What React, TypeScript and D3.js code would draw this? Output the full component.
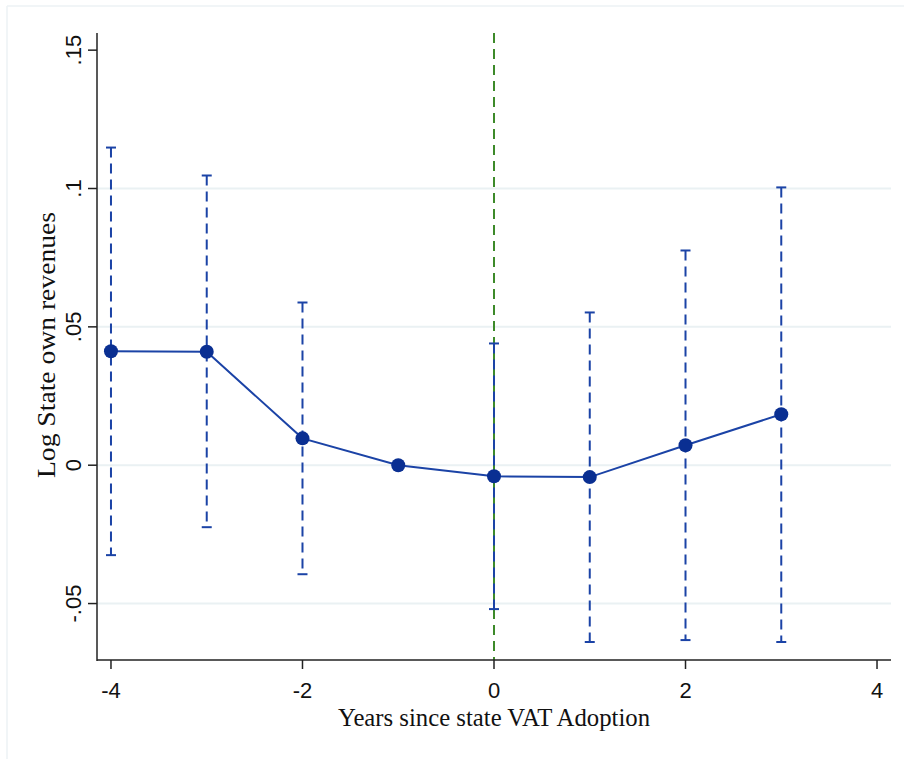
import React from "react";
import * as d3 from "d3";

// Event-study estimates: years relative to state VAT adoption
const years = [-4, -3, -2, -1, 0, 1, 2, 3];
const estimates = [0.0412, 0.041, 0.0097, 0, -0.004, -0.0043, 0.0072, 0.0184];
const ciLower = [-0.0325, -0.0224, -0.0394, null, -0.052, -0.0639, -0.0632, -0.0639];
const ciUpper = [0.1148, 0.1047, 0.0588, null, 0.044, 0.0552, 0.0776, 0.1004];

const xTicks = [-4, -2, 0, 2, 4];
const yTicks = [-0.05, 0, 0.05, 0.1, 0.15];
const yTickLabels = ["-.05", "0", ".05", ".1", ".15"];
const gridValues = [-0.05, 0, 0.05, 0.1];

const W = 904;
const H = 759;
const left = 97;
const right = 891;
const top = 33;
const bottom = 660;

const LINE = "#1b43a6";
const MARK = "#0a2f92";
const GRID = "#eaf1f3";

export default function App() {
  const x = d3.scaleLinear().domain([-4.146, 4.146]).range([left, right]);
  const y = d3.scaleLinear().domain([-0.0704, 0.1562]).range([bottom, top]);

  const pts = years.map((yr, i) => ({ yr, v: estimates[i], lo: ciLower[i], hi: ciUpper[i] }));
  const line = d3
    .line<{ yr: number; v: number }>()
    .x((d) => x(d.yr))
    .y((d) => y(d.v));

  const sans = "'Liberation Sans', Arial, sans-serif";
  const serif = "'Liberation Serif', 'DejaVu Serif', serif";

  return (
    <svg
      width={W}
      height={H}
      style={{ position: "absolute", left: 0, top: 0, background: "#fff" }}
    >
      {/* outer frame */}
      <line x1={7} x2={W} y1={6} y2={6} stroke="#edf2f4" strokeWidth={1.5} />
      <line x1={7} x2={7} y1={6} y2={H} stroke="#edf2f4" strokeWidth={1.5} />

      {/* gridlines */}
      {gridValues.map((g) => (
        <line key={g} x1={left} x2={right} y1={y(g)} y2={y(g)} stroke={GRID} strokeWidth={2} />
      ))}

      {/* reference line at adoption year */}
      <line
        x1={x(0)}
        x2={x(0)}
        y1={top}
        y2={bottom}
        stroke="#3d8a2a"
        strokeWidth={2}
        strokeDasharray="10 6"
      />

      {/* confidence intervals */}
      {pts
        .filter((p) => p.lo !== null && p.hi !== null)
        .map((p) => (
          <g key={p.yr} stroke={LINE} strokeWidth={2}>
            <line
              x1={x(p.yr)}
              x2={x(p.yr)}
              y1={y(p.hi as number)}
              y2={y(p.lo as number)}
              strokeDasharray="10 6"
            />
            <line x1={x(p.yr) - 5} x2={x(p.yr) + 5} y1={y(p.hi as number)} y2={y(p.hi as number)} />
            <line x1={x(p.yr) - 5} x2={x(p.yr) + 5} y1={y(p.lo as number)} y2={y(p.lo as number)} />
          </g>
        ))}

      {/* point estimates */}
      <path d={line(pts) ?? ""} fill="none" stroke={LINE} strokeWidth={2} />
      {pts.map((p) => (
        <circle key={p.yr} cx={x(p.yr)} cy={y(p.v)} r={7} fill={MARK} />
      ))}

      {/* axes */}
      <line x1={left} x2={left} y1={top} y2={bottom + 1} stroke="#222" strokeWidth={1.5} />
      <line x1={left} x2={right} y1={bottom} y2={bottom} stroke="#222" strokeWidth={1.5} />

      {yTicks.map((t, i) => (
        <g key={t}>
          <line x1={left - 9} x2={left} y1={y(t)} y2={y(t)} stroke="#222" strokeWidth={1.5} />
          <text
            transform={`translate(${left - 16},${y(t)}) rotate(-90)`}
            textAnchor="middle"
            fontFamily={sans}
            fontSize={22}
            fill="#111"
          >
            {yTickLabels[i]}
          </text>
        </g>
      ))}

      {xTicks.map((t) => (
        <g key={t}>
          <line x1={x(t)} x2={x(t)} y1={bottom} y2={bottom + 9} stroke="#222" strokeWidth={1.5} />
          <text
            x={x(t)}
            y={bottom + 38}
            textAnchor="middle"
            fontFamily={sans}
            fontSize={22}
            fill="#111"
          >
            {t}
          </text>
        </g>
      ))}

      <text
        x={494}
        y={726}
        textAnchor="middle"
        fontFamily={serif}
        fontSize={25}
        textLength={312}
        lengthAdjust="spacingAndGlyphs"
        fill="#111"
      >
        Years since state VAT Adoption
      </text>
      <text
        transform={`translate(${55},${345}) rotate(-90)`}
        textAnchor="middle"
        fontFamily={serif}
        fontSize={25}
        textLength={266}
        lengthAdjust="spacingAndGlyphs"
        fill="#111"
      >
        Log State own revenues
      </text>
    </svg>
  );
}
